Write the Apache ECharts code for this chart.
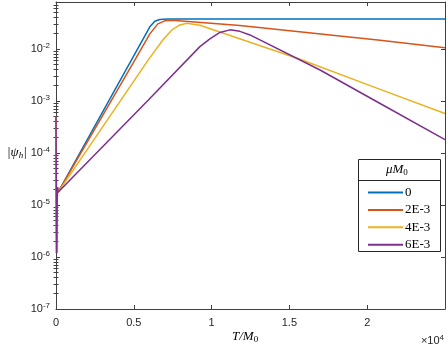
<!DOCTYPE html>
<html>
<head>
<meta charset="utf-8">
<script src="https://cdn.jsdelivr.net/npm/echarts@6/dist/echarts.min.js"></script>
<style>
    html, body { margin: 0; padding: 0; background: #fff; }
    #main { width: 447px; height: 348px; }
</style>
</head>
<body>
<div id="main"></div>
<script>
const chart = echarts.init(document.getElementById('main'));

// legend names (mu*M0)
const names = ['0', '2E-3', '4E-3', '6E-3'];
const colors = ['#0072BD', '#D95319', '#EDB120', '#7E2F8E'];

// T/M0 and |psi_h|
const tBlue = [0, 40, 90, 130, 6030, 6350, 6670, 7190, 25000];
const vBlue = [5e-4, 1.2e-6, 2.2e-5, 1.75e-5, 0.0266, 0.034, 0.0368, 0.0378, 0.0378];

const tOrange = [0, 40, 90, 130, 5064, 6030, 6544, 6995, 7445, 11821, 20830, 25000];
const vOrange = [5e-4, 1.2e-6, 2.2e-5, 1.75e-5, 6.1e-3, 0.0195, 0.0304, 0.0347, 0.0358, 0.0282, 0.0147, 0.0106];

const tYellow = [0, 40, 90, 130, 5920, 6866, 7445, 7960, 8411, 9247, 15682, 20830, 25000];
const vYellow = [5e-4, 1.2e-6, 2.2e-5, 1.75e-5, 6.1e-3, 0.0149, 0.0232, 0.029, 0.0312, 0.0285, 6.33e-3, 1.67e-3, 5.74e-4];

const tPurple = [0, 40, 90, 130, 5920, 9247, 9891, 10534, 11178, 11821, 12465, 16969, 20830, 25000];
const vPurple = [5e-4, 1.2e-6, 2.2e-5, 1.75e-5, 1.035e-3, 0.0111, 0.0156, 0.0208, 0.0233, 0.0218, 0.0186, 3.94e-3, 8.95e-4, 1.81e-4];

const xTicks = [0, 5000, 10000, 15000, 20000];
const yMin = 1e-7;
const yMax = 0.08;

function pairs(t, v) {
    return t.map(function (x, i) { return [x, v[i]]; });
}

// minor log ticks (2..9 per decade) on a hidden linear axis in log10 space
const minorTicks = [];
for (let d = -7; d <= -2; d++) {
    for (let k = 2; k <= 9; k++) {
        const p = d + Math.log10(k);
        if (p < Math.log10(yMax)) minorTicks.push(p);
    }
}

const axisColor = '#404040';
const labelFont = 'Liberation Sans';
const mathFont = 'Liberation Serif';

function xAxisCfg(pos, showLabel) {
    return {
        type: 'value', position: pos, min: 0, max: 25000, interval: 5000,
        axisLine: { show: true, onZero: false, lineStyle: { color: axisColor, width: 1 } },
        axisTick: { show: true, inside: true, length: 4, lineStyle: { color: axisColor } },
        axisLabel: {
            show: showLabel, showMaxLabel: false, margin: 8,
            fontFamily: labelFont, fontSize: 11, color: '#262626',
            formatter: function (v) { return xTicks.indexOf(v) >= 0 ? String(v / 10000) : ''; }
        },
        splitLine: { show: false }
    };
}

function yLogCfg(pos, showLabel) {
    return {
        type: 'log', position: pos, min: yMin, max: yMax, logBase: 10,
        axisLine: { show: true, onZero: false, lineStyle: { color: axisColor, width: 1 } },
        axisTick: { show: true, inside: true, length: 4, lineStyle: { color: axisColor } },
        axisLabel: {
            show: showLabel, showMaxLabel: false, margin: 6,
            formatter: function (v) {
                return '{b|10}{e|' + Math.round(Math.log10(v)) + '}';
            },
            rich: {
                b: { fontFamily: labelFont, fontSize: 11, color: '#262626', lineHeight: 14 },
                e: { fontFamily: labelFont, fontSize: 8, color: '#262626', verticalAlign: 'top', lineHeight: 8 }
            }
        },
        splitLine: { show: false }
    };
}

function yMinorCfg(pos) {
    return {
        type: 'value', position: pos, min: -7, max: Math.log10(yMax),
        axisLine: { show: false },
        axisTick: { show: true, inside: true, length: 2.5, customValues: minorTicks, lineStyle: { color: axisColor } },
        axisLabel: { show: false },
        splitLine: { show: false }
    };
}

const seriesData = [
    pairs(tBlue, vBlue),
    pairs(tOrange, vOrange),
    pairs(tYellow, vYellow),
    pairs(tPurple, vPurple)
];

const option = {
    animation: false,
    backgroundColor: '#fff',
    grid: { left: 56, right: 2, top: 2, bottom: 39, containLabel: false },
    xAxis: [xAxisCfg('bottom', true), xAxisCfg('top', false)],
    yAxis: [yLogCfg('left', true), yLogCfg('right', false), yMinorCfg('left'), yMinorCfg('right')],
    legend: {
        orient: 'vertical', left: 362, top: 181,
        itemWidth: 35, itemHeight: 12, itemGap: 4.4,
        data: names,
        itemStyle: { opacity: 0 },
        textStyle: { fontFamily: mathFont, fontSize: 13, color: '#000', padding: [0, 0, 0, -3] }
    },
    series: names.map(function (n, i) {
        return {
            name: n, type: 'line', data: seriesData[i],
            xAxisIndex: 0, yAxisIndex: 0,
            symbol: 'none', smooth: false,
            lineStyle: { color: colors[i], width: 1.5 },
            itemStyle: { color: colors[i] }
        };
    }),
    graphic: [
        {
            type: 'rect', z: 3, shape: { x: 358.5, y: 159.5, width: 82, height: 92 },
            style: { fill: '#fff', stroke: '#262626', lineWidth: 1 }
        },
        {
            type: 'line', z: 3, shape: { x1: 358.5, y1: 180.5, x2: 440.5, y2: 180.5 },
            style: { stroke: '#262626', lineWidth: 1 }
        },
        {
            type: 'text', z: 5, left: 386, top: 163,
            style: {
                text: '{i|μM}{s|0}',
                rich: {
                    i: { fontFamily: mathFont, fontStyle: 'italic', fontSize: 13, fill: '#000' },
                    s: { fontFamily: mathFont, fontSize: 9, fill: '#000', verticalAlign: 'bottom', padding: [6, 0, 0, 0] }
                }
            }
        },
        {
            type: 'text', z: 5, left: 7, top: 146,
            style: {
                text: '{i|\u007Cψ}{s|h}{i|\u007C}',
                rich: {
                    i: { fontFamily: mathFont, fontStyle: 'italic', fontSize: 13, fill: '#000' },
                    s: { fontFamily: mathFont, fontStyle: 'italic', fontSize: 9, fill: '#000', padding: [6, 0, 0, 0] }
                }
            }
        },
        {
            type: 'text', z: 5, left: 232, top: 330,
            style: {
                text: '{i|T/M}{s|0}',
                rich: {
                    i: { fontFamily: mathFont, fontStyle: 'italic', fontSize: 13, fill: '#000' },
                    s: { fontFamily: mathFont, fontSize: 9, fill: '#000', padding: [6, 0, 0, 0] }
                }
            }
        },
        {
            type: 'text', z: 5, right: 3, top: 334,
            style: {
                text: '{b|×10}{e|4}',
                rich: {
                    b: { fontFamily: labelFont, fontSize: 11, fill: '#262626', lineHeight: 14 },
                    e: { fontFamily: labelFont, fontSize: 8, fill: '#262626', verticalAlign: 'top', lineHeight: 8 }
                }
            }
        }
    ]
};

chart.setOption(option);

window.onresize = function () {
    chart.resize();
};
</script>
</body>
</html>
